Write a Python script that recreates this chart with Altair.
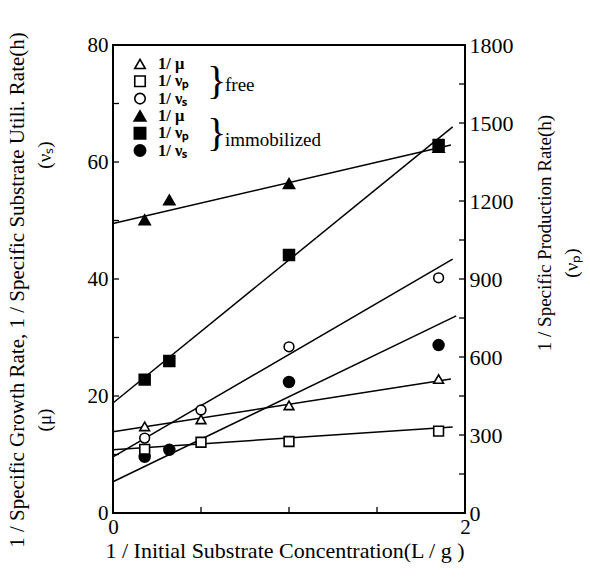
import altair as alt
import pandas as pd

# ---------------- data ----------------
# x: 1 / initial substrate concentration (L/g)
# free cells
free_mu_x = [0.18, 0.5, 1.0, 1.85]
free_mu_y = [14.8, 16.0, 18.4, 22.9]          # left axis
free_vs_x = [0.18, 0.5, 1.0, 1.85]
free_vs_y = [12.8, 17.6, 28.4, 40.2]          # left axis
free_vp_x = [0.18, 0.5, 1.0, 1.85]
free_vp_y = [245, 272, 275, 315]              # right axis (h)
# immobilized cells
imm_mu_x = [0.18, 0.32, 1.0, 1.85]
imm_mu_y = [50.1, 53.5, 56.3, 62.5]           # left axis
imm_vp_x = [0.18, 0.32, 1.0, 1.85]
imm_vp_y = [513, 585, 992, 1415]              # right axis (h)
imm_vs_x = [0.18, 0.32, 1.0, 1.85]
imm_vs_y = [9.6, 10.8, 22.4, 28.7]            # left axis

# fitted straight lines: (start x, start y, end x, end y)
line_names = ["free_mu", "free_vs", "imm_mu", "imm_vs"]
line_x0 = [0, 0, 0, 0]
line_y0 = [13.9, 9.6, 49.5, 5.35]
line_x1 = [1.92, 1.93, 1.92, 1.95]
line_y1 = [22.9, 43.4, 62.9, 33.7]
rline_names = ["free_vp", "imm_vp"]
rline_x0 = [0, 0]
rline_y0 = [243, 423]
rline_x1 = [1.93, 1.93]
rline_y1 = [331, 1485]

left_major = [0, 20, 40, 60, 80]
left_minor = [10, 30, 50, 70]
right_major = [0, 300, 600, 900, 1200, 1500, 1800]
right_minor = [150, 450, 750, 1050, 1350, 1650]
x_major = [0, 1, 2]
x_minor = [0.5, 1.5]

legend_labels = ["1/ μ", "1/ νₚ", "1/ νₛ", "1/ μ", "1/ νₚ", "1/ νₛ"]
legend_shapes = ["triangle-up", "square", "circle", "triangle-up", "square", "circle"]
legend_filled = [False, False, False, True, True, True]
group_labels = ["free", "immobilized"]

# ---------------- layout ----------------
W, H = 352, 468
FONT = "Times New Roman, Liberation Serif, serif"

xs = alt.Scale(domain=[0, 2], nice=False)
ys_left = alt.Scale(domain=[0, 80], nice=False)
ys_right = alt.Scale(domain=[0, 1800], nice=False)

x_axis = alt.Axis(values=x_major, format="d", ticks=False, domain=False, grid=False,
                  labelFont=FONT, labelFontSize=21, labelColor="black",
                  labelPadding=3, title=None, labelFlush=False)
x_enc = alt.X("x:Q", scale=xs, axis=x_axis)

left_axis = alt.Axis(values=left_major, format="d", ticks=False, domain=False, grid=False,
                     labelFont=FONT, labelFontSize=21, labelColor="black", labelPadding=5,
                     title=None, orient="left", labelFlush=False)
right_axis = alt.Axis(values=right_major, format="d", ticks=False, domain=False, grid=False,
                      labelFont=FONT, labelFontSize=22, labelColor="black", labelPadding=4,
                      title=None, orient="right", labelFlush=False)


def pts(xv, yv, shape, filled):
    return pd.DataFrame({"x": xv, "y": yv, "shape": shape, "filled": filled})


left_pts = pd.concat([
    pts(free_mu_x, free_mu_y, "triangle-up", False),
    pts(free_vs_x, free_vs_y, "circle", False),
    pts(imm_mu_x, imm_mu_y, "triangle-up", True),
    pts(imm_vs_x, imm_vs_y, "circle", True),
])
right_pts = pd.concat([
    pts(free_vp_x, free_vp_y, "square", False),
    pts(imm_vp_x, imm_vp_y, "square", True),
])

left_lines = pd.DataFrame({
    "name": line_names * 2,
    "x": line_x0 + line_x1,
    "y": line_y0 + line_y1,
})
right_lines = pd.DataFrame({
    "name": rline_names * 2,
    "x": rline_x0 + rline_x1,
    "y": rline_y0 + rline_y1,
})

shape_scale = alt.Scale(domain=["triangle-up", "square", "circle"],
                        range=["triangle-up", "square", "circle"])


def marks(df, yscale, axis):
    y_enc = alt.Y("y:Q", scale=yscale, axis=axis)
    base = alt.Chart(df)
    open_ = base.transform_filter("!datum.filled").mark_point(
        filled=True, fill="white", stroke="black", strokeWidth=1.6, size=95, opacity=1
    ).encode(x=x_enc, y=y_enc, shape=alt.Shape("shape:N", scale=shape_scale, legend=None))
    filled = base.transform_filter("datum.filled").mark_point(
        filled=True, fill="black", stroke="black", size=110, opacity=1
    ).encode(x=x_enc, y=y_enc, shape=alt.Shape("shape:N", scale=shape_scale, legend=None))
    return open_, filled


ll = alt.Chart(left_lines).mark_line(color="black", strokeWidth=1.5).encode(
    x=x_enc, y=alt.Y("y:Q", scale=ys_left, axis=left_axis), detail="name:N")
rl = alt.Chart(right_lines).mark_line(color="black", strokeWidth=1.5).encode(
    x=x_enc, y=alt.Y("y:Q", scale=ys_right, axis=right_axis), detail="name:N")

lo, lf = marks(left_pts, ys_left, left_axis)
ro, rf = marks(right_pts, ys_right, right_axis)

# inward ticks
lt = pd.DataFrame({"v": left_major + left_minor})
left_ticks = alt.Chart(lt).mark_rule(color="black", strokeWidth=1.3).encode(
    y=alt.Y("v:Q", scale=ys_left, axis=left_axis), x=alt.value(0), x2=alt.value(6))
rt = pd.DataFrame({"v": right_major + right_minor})
right_ticks = alt.Chart(rt).mark_rule(color="black", strokeWidth=1.3).encode(
    y=alt.Y("v:Q", scale=ys_right, axis=right_axis), x=alt.value(W), x2=alt.value(W - 6))
bt = pd.DataFrame({"x": x_major + x_minor})
bottom_ticks = alt.Chart(bt).mark_rule(color="black", strokeWidth=1.3).encode(
    x=x_enc, y=alt.value(H), y2=alt.value(H - 6))


# titles (positions relative to plot area)
def label(text, x, y, size=17, angle=0, align="center"):
    kw = dict(font=FONT, fontSize=size, color="black", align=align, baseline="middle")
    if angle:
        kw["angle"] = angle
    return alt.Chart(pd.DataFrame({"t": [text]})).mark_text(**kw).encode(
        text="t:N", x=alt.value(x), y=alt.value(y))


titles = [
    label("1 / Specific Growth Rate, 1 / Specific Substrate Utili. Rate(h)", -95, 245, 21, 270),
    label("(μ)", -68, 375, 19, 270),
    label("(νₛ)", -68, 110, 19, 270),
    label("1 / Specific Production Rate(h)", 432, 188, 19, 270),
    label("(νₚ)", 459, 218, 19, 270),
    label("1 / Initial Substrate Concentration(L / g )", 172, 506, 22),
]

# legend (pixel positions)
leg = pd.DataFrame({
    "py": [19 + 17.3 * i for i in range(6)],
    "shape": legend_shapes,
    "filled": legend_filled,
    "label": legend_labels,
})
leg_open = alt.Chart(leg).transform_filter("!datum.filled").mark_point(
    filled=True, fill="white", stroke="black", strokeWidth=1.6, size=110, opacity=1).encode(
    x=alt.value(27), y=alt.Y("py:Q", scale=None, axis=None),
    shape=alt.Shape("shape:N", scale=None, legend=None))
leg_fill = alt.Chart(leg).transform_filter("datum.filled").mark_point(
    filled=True, fill="black", stroke="black", size=120, opacity=1).encode(
    x=alt.value(27), y=alt.Y("py:Q", scale=None, axis=None),
    shape=alt.Shape("shape:N", scale=None, legend=None))
leg_text = alt.Chart(leg).mark_text(font=FONT, fontSize=16.5, fontWeight="bold", align="left",
                                    baseline="middle", color="black").encode(
    x=alt.value(45), y=alt.Y("py:Q", scale=None, axis=None), text="label:N")

extras = titles + [
    label("}", 94, 37, 40, 0, "left"),
    label("}", 94, 89, 40, 0, "left"),
    label(group_labels[0], 112, 40, 19, 0, "left"),
    label(group_labels[1], 112, 95, 19, 0, "left"),
]

left_layer = alt.layer(ll, lo, lf, left_ticks, bottom_ticks, leg_open, leg_fill, leg_text, *extras)
right_layer = alt.layer(rl, ro, rf, right_ticks)

chart = alt.layer(left_layer, right_layer).resolve_scale(
    y="independent", shape="independent"
).properties(
    width=W, height=H,
    autosize=alt.AutoSizeParams(type="none"),
    padding={"left": 113, "top": 45, "right": 125, "bottom": 68},
    background="white",
).configure_view(stroke="black", strokeWidth=2).configure_axis(
    labelFont=FONT, labelColor="black"
).configure_text(font=FONT)

chart.save("out.html", embed_options={"renderer": "svg", "actions": False})
